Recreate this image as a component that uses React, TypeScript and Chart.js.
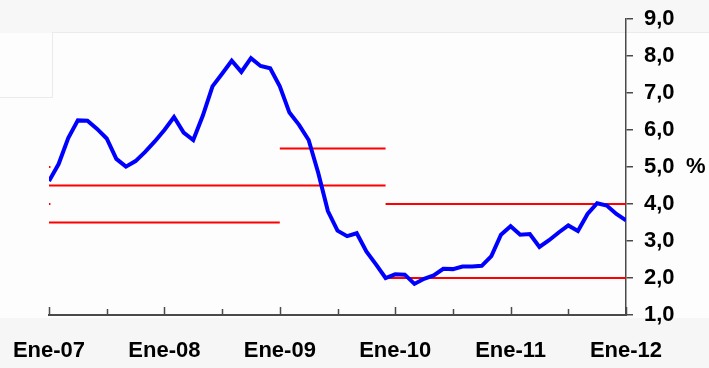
import React, { useEffect, useRef } from "react";
import { Chart, registerables } from "chart.js";

Chart.register(...registerables);

// Monthly annual inflation (%), Ene-07 .. Ene-12 (month index 0..60)
const inflation = [
  4.62, 5.08, 5.78, 6.26, 6.25, 6.03, 5.77, 5.22, 5.01, 5.16, 5.41, 5.69,
  6.0, 6.35, 5.93, 5.73, 6.39, 7.18, 7.52, 7.87, 7.57, 7.94, 7.73, 7.67,
  7.18, 6.47, 6.14, 5.73, 4.84, 3.81, 3.28, 3.13, 3.21, 2.72, 2.37, 2.0,
  2.1, 2.09, 1.84, 1.98, 2.07, 2.25, 2.24, 2.31, 2.31, 2.33, 2.59, 3.17,
  3.4, 3.17, 3.19, 2.84, 3.02, 3.23, 3.42, 3.27, 3.73, 4.02, 3.96, 3.73,
  3.56,
];

// Target band segments (red lines): level, start month, end month
const bandLevels = [5.0, 4.0, 4.5, 3.5, 5.5, 4.0, 2.0];
const bandFrom = [0, 0, 0, 0, 24, 35, 35];
const bandTo = [0.15, 0.15, 35, 24, 35, 60, 60];

const xTickLabels = ["Ene-07", "Ene-08", "Ene-09", "Ene-10", "Ene-11", "Ene-12"];
const xTickMonths = [0, 6, 12, 18, 24, 30, 36, 42, 48, 54, 60];
const yMin = 1;
const yMax = 9;
const unitLabel = "%";

const FONT = 'Arial, "Liberation Sans", sans-serif';
const AXIS = "#4a4a4a";

export default function App() {
  const ref = useRef<HTMLCanvasElement | null>(null);

  useEffect(() => {
    if (!ref.current) return;

    const datasets: any[] = [
      {
        label: "Inflación",
        data: inflation.map((v, i) => ({ x: i, y: v })),
        borderColor: "#0000ff",
        borderWidth: 4,
        pointRadius: 0,
        tension: 0,
        order: 0,
      },
    ];
    bandLevels.forEach((lvl, i) => {
      datasets.push({
        label: "Meta " + i,
        data: [
          { x: bandFrom[i], y: lvl },
          { x: bandTo[i], y: lvl },
        ],
        borderColor: "#ff0000",
        borderWidth: 2,
        pointRadius: 0,
        order: 1,
        clip: false,
      });
    });

    const overlay = {
      id: "overlay",
      afterDraw(chart: any) {
        const { ctx, chartArea, scales } = chart;
        const xs = scales.x;
        const ys = scales.y;
        ctx.save();
        ctx.strokeStyle = AXIS;
        ctx.lineWidth = 1.5;
        xTickMonths.forEach((m) => {
          const px = Math.round(xs.getPixelForValue(m)) + 0.5;
          ctx.beginPath();
          ctx.moveTo(px, chartArea.bottom);
          ctx.lineTo(px, chartArea.bottom - (m % 12 === 0 ? 8 : 6));
          ctx.stroke();
        });
        ctx.fillStyle = "#000";
        ctx.font = "bold 22px " + FONT;
        ctx.textBaseline = "middle";
        ctx.textAlign = "left";
        ctx.fillText(unitLabel, 686, ys.getPixelForValue(5));
        ctx.restore();
      },
    };

    const chart = new Chart(ref.current, {
      type: "line",
      data: { datasets },
      options: {
        animation: false,
        responsive: false,
        maintainAspectRatio: false,
        layout: { padding: { left: 49, top: 19, right: 0, bottom: 0 } },
        plugins: { legend: { display: false }, tooltip: { enabled: false } },
        scales: {
          x: {
            type: "linear",
            min: 0,
            max: 60,
            afterBuildTicks: (s: any) => {
              s.ticks = xTickMonths.map((v) => ({ value: v }));
            },
            afterFit: (s: any) => {
              s.height = 53;
              s.paddingLeft = 0;
              s.paddingRight = 0;
            },
            grid: { display: true, drawOnChartArea: false, drawTicks: false },
            border: { display: true, color: AXIS, width: 2 },
            ticks: {
              autoSkip: false,
              maxRotation: 0,
              padding: 23,
              color: "#000",
              font: { family: FONT, size: 22, weight: "bold" },
              callback: (v: any) => (Number(v) % 12 === 0 ? xTickLabels[Number(v) / 12] : ""),
            },
          },
          y: {
            position: "right",
            min: yMin,
            max: yMax,
            afterFit: (s: any) => {
              s.width = 83;
              s.paddingTop = 0;
              s.paddingBottom = 0;
            },
            grid: {
              display: true,
              drawOnChartArea: false,
              drawTicks: true,
              tickLength: 7,
              color: AXIS,
              lineWidth: 1.5,
            },
            border: { display: true, color: AXIS, width: 1.5 },
            ticks: {
              stepSize: 1,
              padding: 11,
              color: "#000",
              font: { family: FONT, size: 22, weight: "bold" },
              callback: (v: any) => Number(v).toFixed(1).replace(".", ","),
            },
          },
        },
      },
      plugins: [overlay],
    });
    return () => chart.destroy();
  }, []);

  return (
    <div style={{ position: "fixed", left: 0, top: 0, width: 709, height: 368, background: "#fdfdfd", overflow: "hidden" }}>
      <div style={{ position: "absolute", left: 0, top: 0, width: 709, height: 33, background: "#f7f7f7" }} />
      <div style={{ position: "absolute", left: 52, top: 32, width: 657, height: 1, background: "#ebebeb" }} />
      <div style={{ position: "absolute", left: 52, top: 32, width: 1, height: 66, background: "#ebebeb" }} />
      <div style={{ position: "absolute", left: 0, top: 97, width: 53, height: 1, background: "#ebebeb" }} />
      <div style={{ position: "absolute", left: 0, top: 318, width: 709, height: 50, background: "#f6f6f6" }} />
      <canvas ref={ref} width={709} height={368} style={{ position: "absolute", left: 0, top: 0 }} />
    </div>
  );
}
